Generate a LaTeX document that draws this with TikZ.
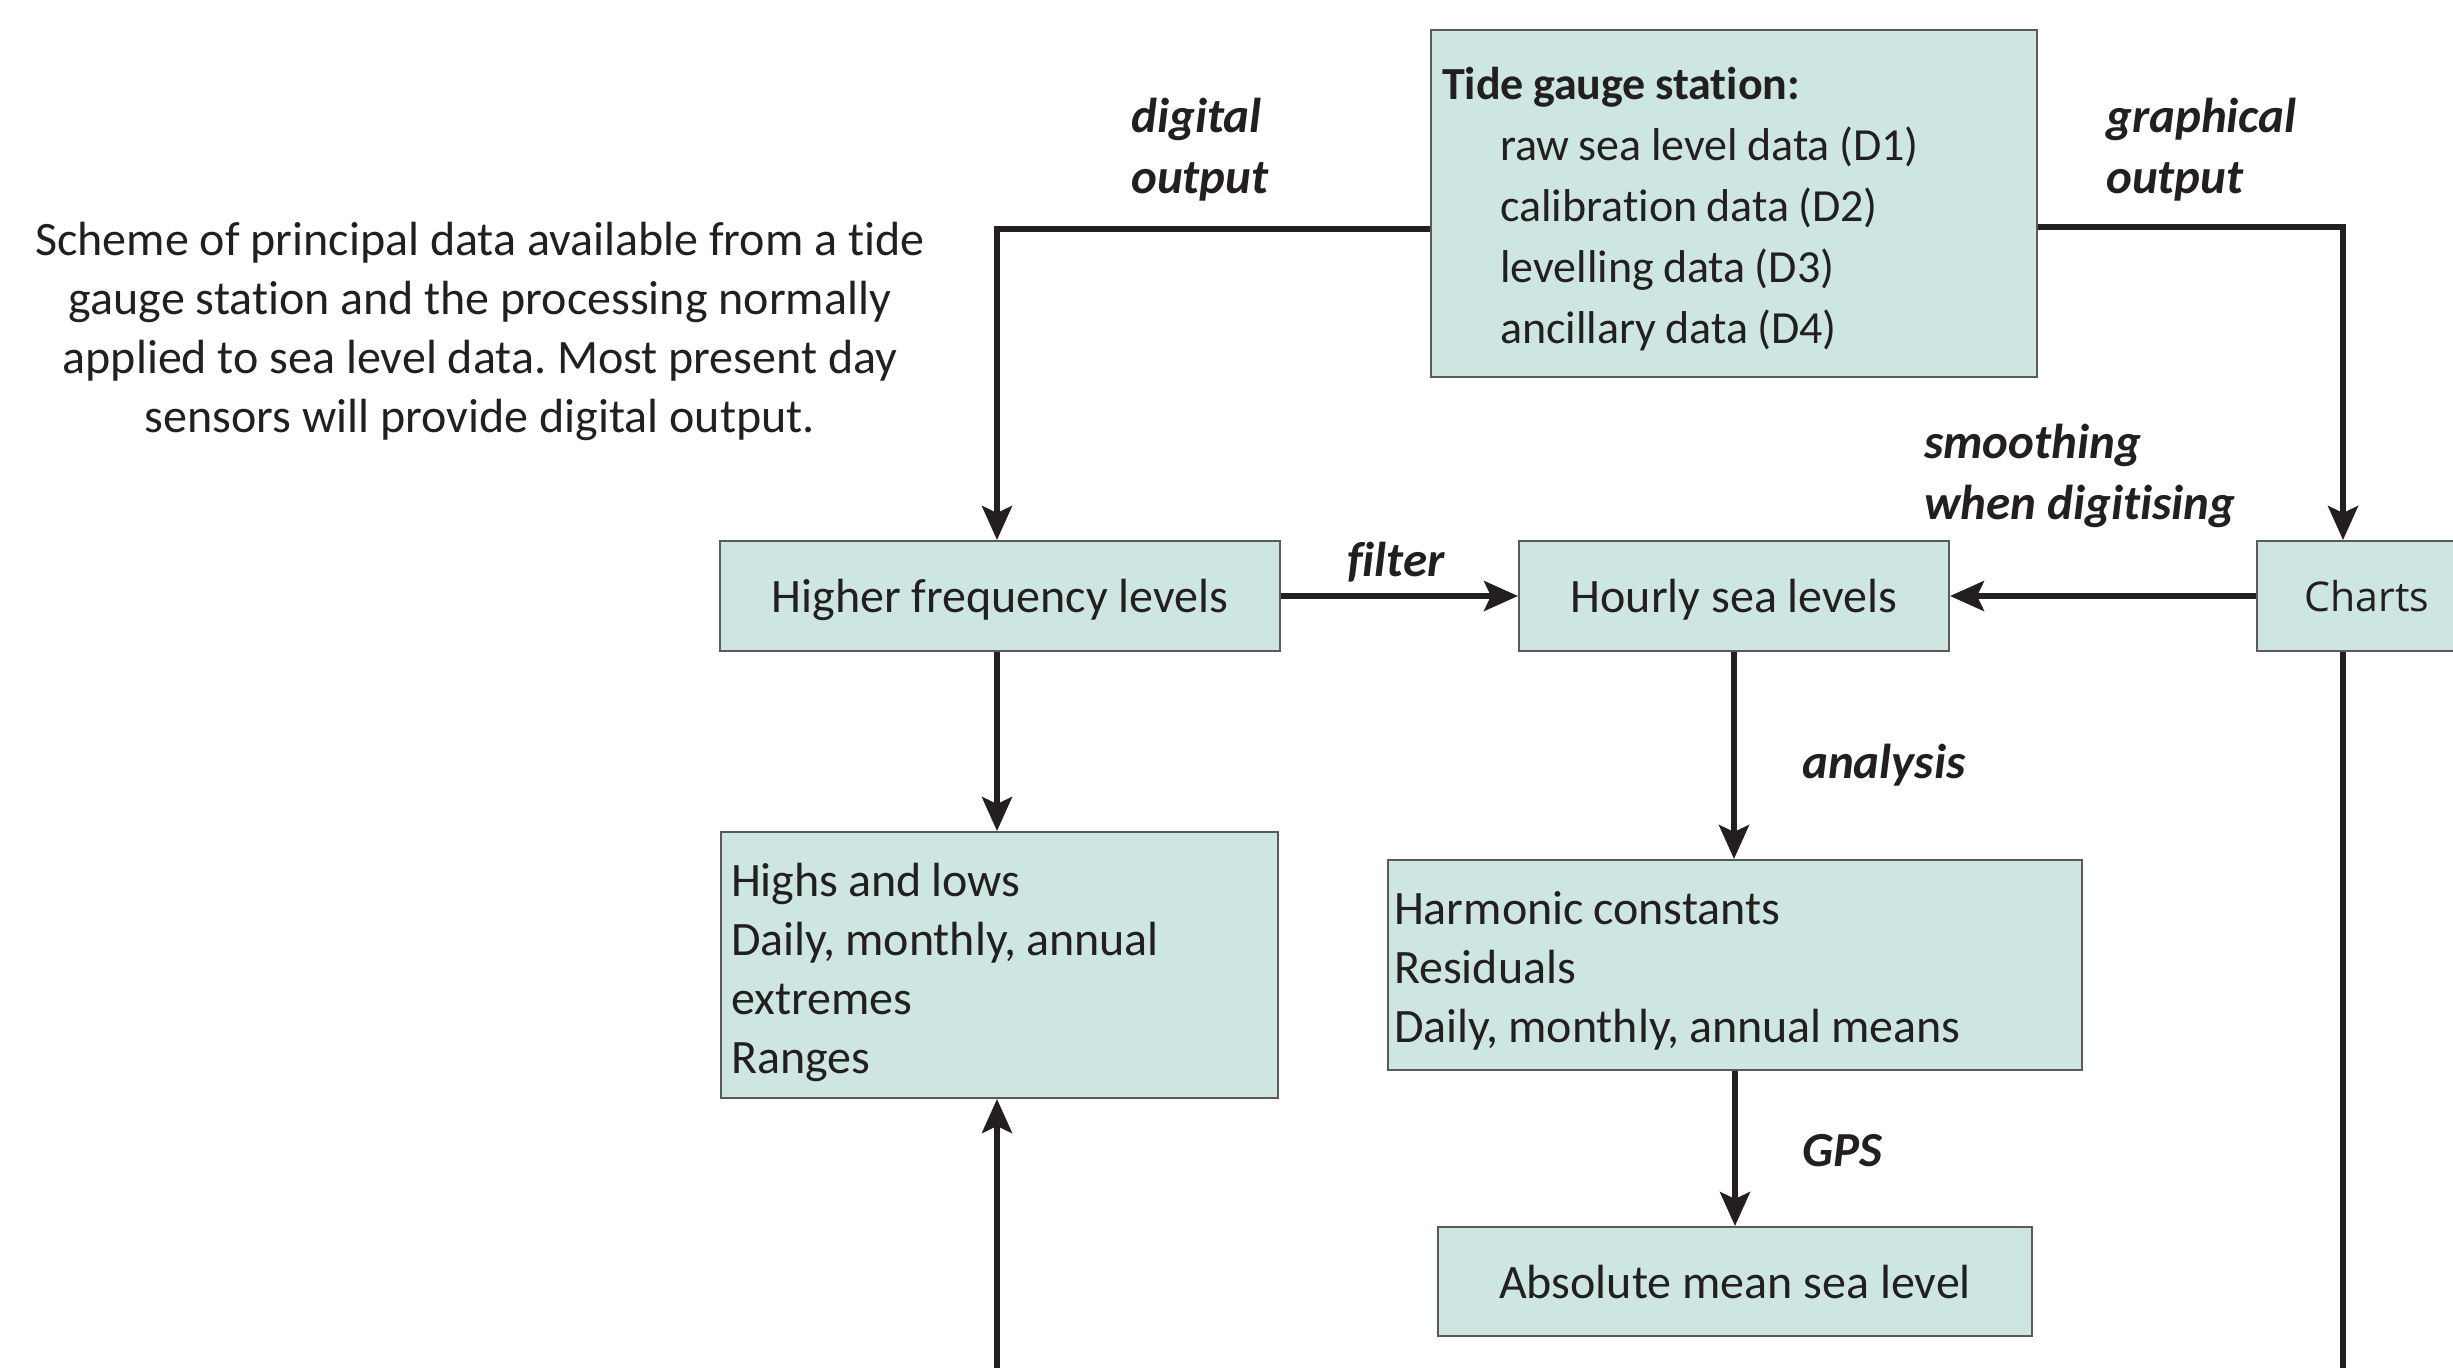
\documentclass[tikz,border=0pt]{standalone}
\usepackage{fontspec}
\setmainfont{Carlito}[Ligatures=NoCommon]
\newfontfamily\chartsfont{Open Sans}
\usetikzlibrary{arrows.meta}
\definecolor{boxfill}{RGB}{205,230,226}
\definecolor{boxline}{RGB}{90,90,90}
\definecolor{ink}{RGB}{35,31,32}
\newcommand\mytightsp{\spaceskip=0.2em\relax\xspaceskip=0.2em\relax}
\begin{document}
\frenchspacing
\begin{tikzpicture}[x=1pt,y=-1pt,
  box/.style={draw=boxline, fill=boxfill, line width=2pt, inner sep=0pt, text=ink,
    font=\fontsize{48}{61}\selectfont},
  tight/.style={font=\fontsize{#1}{59}\selectfont},
  arr/.style={draw=ink, line width=5.5pt, -{Stealth[length=34pt,width=30pt,inset=7pt]}},
  ln/.style={draw=ink, line width=5.5pt},
  lab/.style={font=\fontsize{49}{61}\selectfont\bfseries\itshape, text=ink, align=left, inner sep=0pt}]
\clip (0,0) rectangle (2453,1368);

% caption
\node[font=\fontsize{48}{59}\selectfont\frenchspacing, text=ink, align=center, inner sep=0pt] (caption) at (480,326.5)
  {\rule{0pt}{43pt}Scheme of principal data available from a tide\\gauge station and the processing normally\\applied to sea level data. Most present day\\sensors will provide digital output.};

% boxes
\node[box, text width=584pt, inner xsep=11pt, minimum height=347pt, align=left, font=\fontsize{46}{61}\selectfont] (tide) at (1734,203.5)
  {\mytightsp\rule{0pt}{43pt}\textbf{Tide gauge station:}\\
   \hspace*{58pt}raw sea level data (D1)\\
   \hspace*{58pt}calibration data (D2)\\
   \hspace*{58pt}levelling data (D3)\\
   \hspace*{58pt}ancillary data (D4)};
\node[box, minimum width=560pt, minimum height=110pt, text depth=0pt] (higher) at (1000,596) {Higher frequency levels};
\node[box, minimum width=430pt, minimum height=110pt, text depth=0pt] (hourly) at (1734,596) {Hourly sea levels};
\node[box, minimum width=220pt, minimum height=110pt, font=\chartsfont\fontsize{41}{48}\selectfont] (charts) at (2367,596) {Charts};
\node[box, tight=48, text width=537pt, inner xsep=10pt, minimum height=266pt, align=left] (highs) at (999.5,965)
  {\mytightsp\rule{0pt}{49pt}Highs and lows\\Daily, monthly, annual\\extremes\\Ranges};
\node[box, tight=48, text width=682pt, inner xsep=6pt, minimum height=210pt, align=left] (harmonic) at (1735,965)
  {\mytightsp\rule{0pt}{45pt}Harmonic constants\\Residuals\\Daily, monthly, annual means};
\node[box, minimum width=594pt, minimum height=109pt] (absolute) at (1735,1281.5) {Absolute mean sea level};

% labels
\node[lab, anchor=west] (ldigital) at (1131,149.5) {digital\\output};
\node[lab, anchor=west] (lgraph) at (2106,149.5) {graphical\\output};
\node[lab, anchor=west] (lsmooth) at (1924,476) {smoothing\\when digitising};
\node[lab] (lfilter) at (1396,562) {filter};
\node[lab, anchor=west] (lanalysis) at (1802,765) {analysis};
\node[lab, anchor=west] (lgps) at (1802,1151) {GPS};

% connectors
\coordinate (dx) at (997,229);
\coordinate (gx) at (2343,227);
\coordinate (lb) at (997,1368);
\coordinate (rb) at (2343,1368);
\draw[arr] (tide.west |- dx) -- (dx) -- (dx |- higher.north);
\draw[arr] (tide.east |- gx) -- (gx) -- (gx |- charts.north);
\draw[arr] (charts.west) -- (hourly.east);
\draw[arr] (higher.east) -- (hourly.west);
\draw[arr] (dx |- higher.south) -- (dx |- highs.north);
\draw[arr] (hourly.south) -- (hourly.south |- harmonic.north);
\draw[arr] (harmonic.south) -- (harmonic.south |- absolute.north);
\draw[arr] (lb) -- (lb |- highs.south);
\draw[ln] (gx |- charts.south) -- (rb);
\end{tikzpicture}
\end{document}
